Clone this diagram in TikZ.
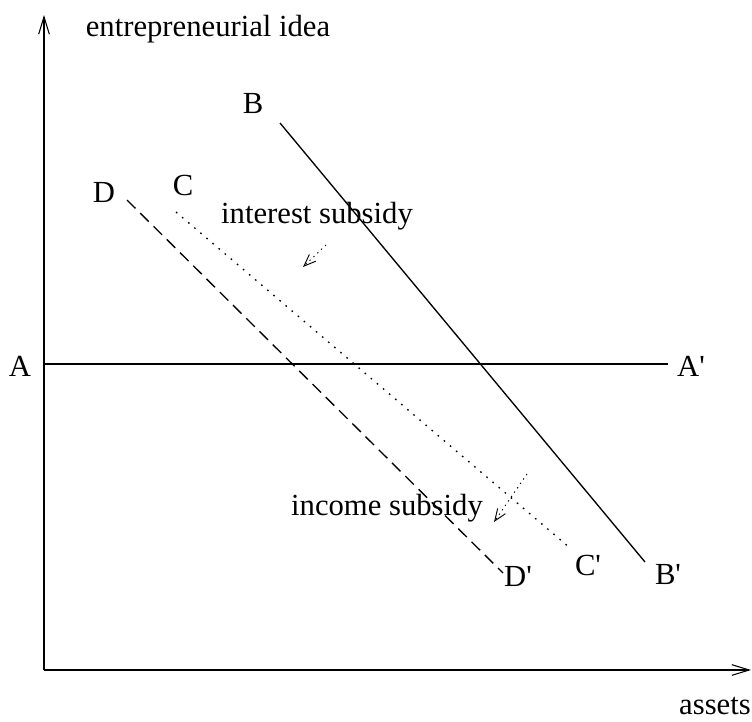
\documentclass[tikz,border=0pt]{standalone}
\usepackage{fontspec}
\setmainfont{Liberation Serif}
\usetikzlibrary{arrows.meta}

\begin{document}
\begin{tikzpicture}[x=0.75pt,y=-0.75pt,
    lbl/.style={font=\fontsize{23}{27}\selectfont,inner sep=0pt},
    axis/.style={line width=0.8pt,-{Straight Barb[length=13pt,width=8pt]}},
    schedule/.style={line width=1pt},
    movearrow/.style={line width=0.7pt,dash pattern=on 1pt off 3pt,-{Straight Barb[length=9pt,width=7pt]}}]
        \useasboundingbox (0,0) rectangle (752,721);
        % axes
        \coordinate (O) at (44,670);
        \coordinate (ytip) at (44,15);
        \coordinate (xtip) at (751,670);
        \draw[axis] (O) -- (ytip);
        \draw[axis] (O) -- (xtip);
        \node[lbl] (ylab) at (208,29) {entrepreneurial idea};
        \node[lbl] (xlab) at (715,706) {assets};
        % schedules
        \coordinate (a0) at (44,364);  \coordinate (a1) at (668,364);
        \coordinate (b0) at (280,123); \coordinate (b1) at (645,562);
        \coordinate (c0) at (176,212); \coordinate (c1) at (570,548);
        \coordinate (d0) at (127,200); \coordinate (d1) at (503,573);
        \draw[schedule] (a0) -- (a1);
        \draw[schedule] (b0) -- (b1);
        \draw[schedule,dash pattern=on 1.2pt off 4.8pt] (c0) -- (c1);
        \draw[schedule,dash pattern=on 9pt off 5pt] (d0) -- (d1);
        \node[lbl] (A) at (20,366) {A};
        \node[lbl] (A') at (691,366) {A\textquotesingle};
        \node[lbl] (B) at (253,104) {B};
        \node[lbl] (B') at (668,574) {B\textquotesingle};
        \node[lbl] (C) at (183,185) {C};
        \node[lbl] (C') at (588,565) {C\textquotesingle};
        \node[lbl] (D) at (104,192) {D};
        \node[lbl] (D') at (518,576) {D\textquotesingle};
        % subsidy shifts
        \coordinate (i0) at (326,245); \coordinate (i1) at (303,267);
        \coordinate (j0) at (527,474); \coordinate (j1) at (494,522);
        \draw[movearrow] (i0) -- (i1);
        \draw[movearrow] (j0) -- (j1);
        \node[lbl] (isub) at (317,216) {interest subsidy};
        \node[lbl] (jsub) at (387,508) {income subsidy};
      \end{tikzpicture}
\end{document}
